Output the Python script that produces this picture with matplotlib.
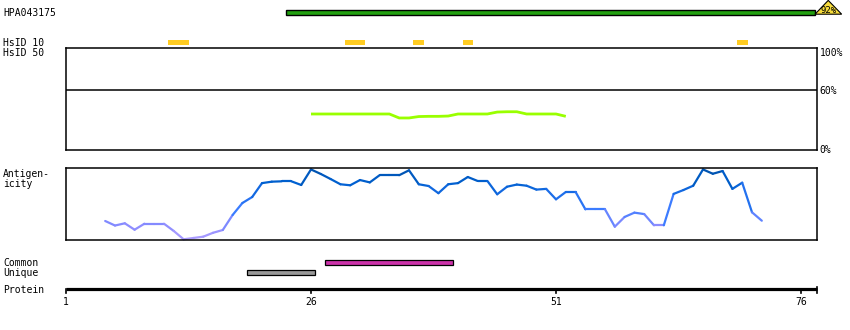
import matplotlib
matplotlib.use("Agg")
import matplotlib.pyplot as plt
import numpy as np
from matplotlib.collections import LineCollection
from matplotlib.colors import LinearSegmentedColormap
from matplotlib.patches import Polygon

# ---------------- data ----------------
hpa_label = "HPA043175"
hpa_range = (23.45, 77.43)
hpa_identity = "92%"

hsid10_ranges = [(11.4, 13.55), (29.5, 31.5), (36.4, 37.5), (41.5, 42.5), (69.5, 70.6)]

identity_residues = list(range(26, 53))
identity_values = [35.3, 35.3, 35.3, 35.3, 35.3, 35.3, 35.3, 35.3, 35.3,
                   31.4, 31.4, 32.8, 33.0, 33.0, 33.3,
                   35.3, 35.3, 35.3, 35.3,
                   37.2, 37.5, 37.5,
                   35.3, 35.3, 35.3, 35.3, 33.0]

antigen_residues = list(range(5, 73))
antigen_values = [0.264, 0.201, 0.232, 0.143, 0.226, 0.226, 0.226, 0.125, 0.010, 0.028,
                  0.046, 0.100, 0.139, 0.347, 0.514, 0.597, 0.790, 0.810, 0.815, 0.815,
                  0.764, 0.980, 0.917, 0.847, 0.774, 0.760, 0.833, 0.800, 0.900, 0.900,
                  0.900, 0.968, 0.774, 0.750, 0.650, 0.774, 0.790, 0.875, 0.820, 0.820,
                  0.635, 0.740, 0.770, 0.754, 0.700, 0.710, 0.565, 0.667, 0.667, 0.426,
                  0.426, 0.426, 0.185, 0.320, 0.380, 0.360, 0.204, 0.204, 0.640, 0.694,
                  0.754, 0.980, 0.920, 0.958, 0.710, 0.796, 0.385, 0.268]

common_range = (27.4, 40.5)
unique_range = (19.5, 26.4)

protein_ticks = [1, 26, 51, 76]

identity_ticks = [100, 60, 0]
identity_tick_labels = ["100%", "60%", "0%"]

# ---------------- layout ----------------
W, H = 850, 330
fig = plt.figure(figsize=(W / 100, H / 100), dpi=100)
X0, X1 = 66, 817
PX_PER_RES = 9.8
RMIN = 1
RMAX = RMIN + (X1 - X0) / PX_PER_RES

FONT = dict(family="DejaVu Sans Mono", size=7, color="black")


def fx(px):
    return px / W


def fy(py):
    return 1 - py / H


def label(px, py, s, ha="left", **kw):
    d = dict(FONT)
    d.update(kw)
    fig.text(fx(px), fy(py), s, ha=ha, va="baseline", **d)


# track axes: x in residues, y in pixels (top-down)
tr = fig.add_axes([fx(X0), 0, (X1 - X0) / W, 1])
tr.set_xlim(RMIN, RMAX)
tr.set_ylim(H, 0)
tr.axis("off")

# HPA bar
tr.barh(12.3, hpa_range[1] - hpa_range[0], left=hpa_range[0], height=4.4,
        color="#22a010", edgecolor="black", linewidth=1.0, clip_on=False)
tri = Polygon([[hpa_range[1], 14.2], [hpa_range[1] + 1.35, 0.4], [hpa_range[1] + 2.72, 14.2]],
              closed=True, facecolor="#f7dc3c", edgecolor="black", linewidth=0.8, clip_on=False)
tr.add_patch(tri)
label(829, 12.6, hpa_identity, ha="center", size=6.5)

# HsID 10 bars
for a, b in hsid10_ranges:
    tr.barh(42.3, b - a, left=a, height=4.6, color="#ffcc22", linewidth=0, clip_on=False)

# Common / Unique
tr.barh(262.3, common_range[1] - common_range[0], left=common_range[0], height=4.4,
        color="#cc33aa", edgecolor="black", linewidth=0.9, clip_on=False)
tr.barh(272.3, unique_range[1] - unique_range[0], left=unique_range[0], height=4.4,
        color="#999999", edgecolor="black", linewidth=0.9, clip_on=False)

# Protein axis
tr.plot([RMIN, RMAX], [289.2, 289.2], color="black", linewidth=2.3, solid_capstyle="butt",
        clip_on=False)
for t in protein_ticks + [RMAX]:
    top = 287 if t == RMAX else 289
    tr.plot([t, t], [top, 293], color="black", linewidth=1.2, clip_on=False)
for t in protein_ticks:
    label(X0 + (t - RMIN) * PX_PER_RES, 305, str(t), ha="center")

# Identity panel
idax = fig.add_axes([fx(X0), fy(150), (X1 - X0) / W, (150 - 48) / H])
idax.set_xlim(RMIN, RMAX)
idax.set_ylim(0, 100)
idax.set_xticks([])
idax.set_yticks([])
for s in idax.spines.values():
    s.set_linewidth(1.1)
idax.axhline(58.8, color="black", linewidth=1.1)
idax.plot(identity_residues, identity_values, color="#99ff00", linewidth=2.0,
          solid_capstyle="butt")
for v, py, s in zip(identity_ticks, [56, 94, 153.3], identity_tick_labels):
    label(819.5, py, s)

# Antigenicity panel
agax = fig.add_axes([fx(X0), fy(240), (X1 - X0) / W, (240 - 168) / H])
agax.set_xlim(RMIN, RMAX)
agax.set_ylim(0, 1)
agax.set_xticks([])
agax.set_yticks([])
for s in agax.spines.values():
    s.set_linewidth(1.1)
cmap = LinearSegmentedColormap.from_list(
    "ag", [(0.0, "#b0a0ff"), (0.2, "#8c8cff"), (0.43, "#3a7cff"),
           (0.6, "#2270ee"), (0.8, "#0060d0"), (1.0, "#0050a8")])
pts = np.column_stack([antigen_residues, antigen_values])
segs = np.stack([pts[:-1], pts[1:]], axis=1)
mids = (np.array(antigen_values[:-1]) + np.array(antigen_values[1:])) / 2
lc = LineCollection(segs, colors=cmap(mids), linewidths=1.6, capstyle="round",
                    clip_on=False)
agax.add_collection(lc)

# Left labels
label(3, 16, hpa_label)
label(3, 45.7, "HsID 10")
label(3, 56, "HsID 50")
label(3, 176.7, "Antigen-")
label(3, 187, "icity")
label(3, 266, "Common")
label(3, 276, "Unique")
label(3, 293, "Protein")

fig.savefig("out.png", dpi=100)
